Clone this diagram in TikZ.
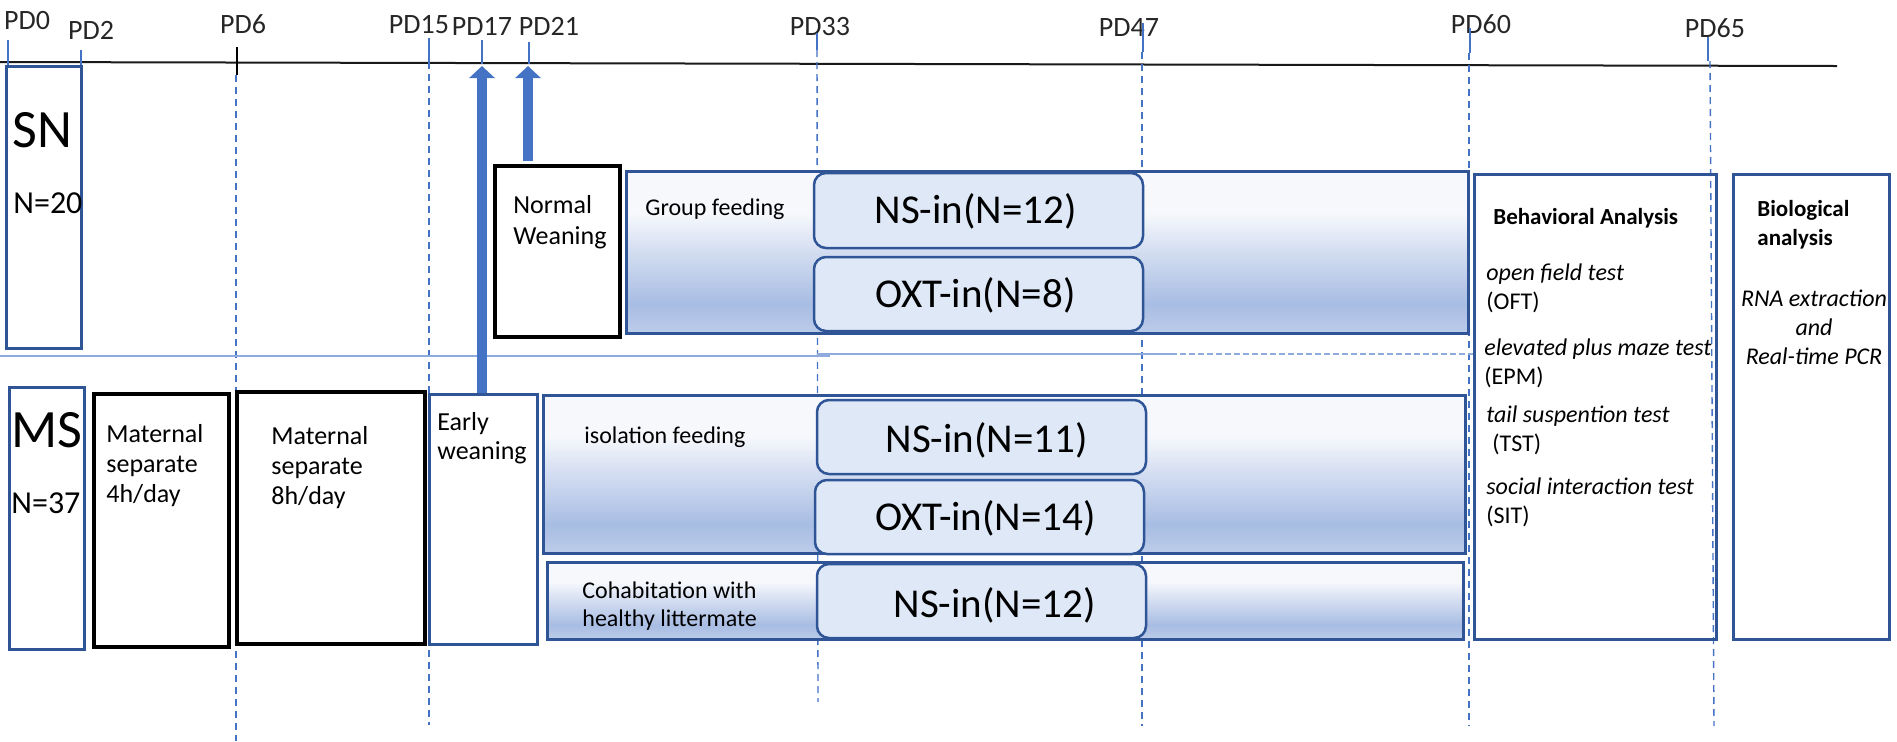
\documentclass[tikz,border=0pt]{standalone}
\usepackage{fontspec}
\setmainfont{Carlito}
\usetikzlibrary{positioning, fit, arrows.meta}

\definecolor{boxblue}{HTML}{2F5597}
\definecolor{lineblue}{HTML}{4472C4}
\definecolor{paleblue}{HTML}{8FAADC}
\definecolor{inblue}{HTML}{DEE8F6}
\definecolor{fadetop}{HTML}{F6F8FC}
\definecolor{fademid}{HTML}{D3DDF1}
\definecolor{fadedark}{HTML}{A8BDE3}
\definecolor{fadebot}{HTML}{BCCCEA}
\pgfdeclareverticalshading{feedfade}{100bp}{color(0bp)=(fadebot); color(25bp)=(fadebot); color(34bp)=(fadedark); color(50bp)=(fademid); color(62bp)=(fadetop); color(100bp)=(fadetop)}

\begin{document}
\begin{tikzpicture}[x=0.5pt, y=-0.5pt,
    box/.style={draw=boxblue, line width=1.5pt, inner sep=0pt},
    blackbox/.style={draw=black, line width=1.6pt, inner sep=0pt},
    feedbox/.style={box, shade, shading=feedfade},
    inbox/.style={draw=boxblue, fill=inblue, line width=1.25pt, rounded corners=6pt, inner sep=0pt},
    intext/.style={inner sep=0pt, font=\fontsize{20.5}{24}\selectfont},
    bigname/.style={inner sep=0pt, anchor=base west, font=\fontsize{27}{30}\selectfont},
    groupn/.style={inner sep=0pt, anchor=base west, font=\fontsize{16}{19}\selectfont},
    pdlabel/.style={inner sep=0pt, text=black!85, font=\fontsize{14}{16}\selectfont},
    pdtick/.style={lineblue, line width=0.8pt},
    gridline/.style={lineblue, line width=0.7pt, dash pattern=on 3.5pt off 2.5pt},
    txt/.style={inner sep=0pt, align=left, anchor=north west, font=\fontsize{13}{15.5}\selectfont},
    oneline/.style={inner sep=0pt, anchor=base west, font=\fontsize{12}{14}\selectfont},
    weanarrow/.style={lineblue, line width=5pt, -{Triangle[width=12.5pt, length=6pt]}}]
    \useasboundingbox (0,0) rectangle (1897,741);

    % time axis
    \coordinate (axis-w) at (0,62);
    \coordinate (axis-e) at (1837,66);
    \draw[black!90, line width=1pt] (axis-w) -- (axis-e);

    \node[pdlabel] (pd0) at (27,21) {PD0};
    \node[pdlabel] (pd2) at (91,30) {PD2};
    \node[pdlabel] (pd6) at (243,24) {PD6};
    \node[pdlabel] (pd15) at (419,25) {PD15};
    \node[pdlabel] (pd17) at (482,26) {PD17};
    \node[pdlabel] (pd21) at (549,26) {PD21};
    \node[pdlabel] (pd33) at (820,27) {PD33};
    \node[pdlabel] (pd47) at (1129,28) {PD47};
    \node[pdlabel] (pd60) at (1481,24) {PD60};
    \node[pdlabel] (pd65) at (1715,28) {PD65};

    \draw[pdtick] (8,40) -- (8,67);
    \draw[pdtick] (81,50) -- (81,67);
    \draw[black, line width=0.8pt] (237,47) -- (237,75);
    \draw[gridline] (236,75) -- (236,741);
    \draw[pdtick] (429,38) -- (429,62);
    \draw[gridline] (429,62) -- (429,725);
    \draw[pdtick] (482,40) -- (482,64);
    \draw[pdtick] (529,42) -- (529,64);
    \draw[pdtick] (817,33) -- (817,50);
    \draw[gridline] (817,50) -- (818,702);
    \draw[pdtick] (1143,23) -- (1143,52);
    \draw[gridline] (1142,52) -- (1142,726);
    \draw[pdtick] (1470,28) -- (1470,53);
    \draw[gridline] (1469,53) -- (1469,726);
    \draw[pdtick] (1708,37) -- (1708,61);
    \draw[gridline] (1710,61) -- (1714,726);

    % SN / MS split
    \draw[paleblue, line width=1pt] (0,356) -- (830,356);
    \draw[paleblue, line width=1pt] (817,354) -- (1171,354);
    \draw[paleblue, line width=1pt, dash pattern=on 3pt off 1.5pt] (1171,354) -- (1473,354);

    % SN group
    \node[box, fit={(6,66) (81,348)}] (sn) {};
    \node[bigname] (sn-name) at (12,147) {SN};
    \node[groupn] (sn-n) at (13,213) {N=20};

    \node[blackbox, fit={(495,166) (620,337)}] (nw) {};
    \node[txt] (nw-text) at (513,195) {Normal\\Weaning};

    \node[feedbox, fit={(626,171) (1468,333)}] (group) {};
    \node[oneline] (group-text) at (645,215) {Group feeding};
    \node[inbox, fit={(814,173) (1143,248)}] (g-ns) {};
    \node[intext] (g-ns-text) at ([shift={(-3,1)}]g-ns.center) {NS-in(N=12)};
    \node[inbox, fit={(814,257) (1143,331)}] (g-oxt) {};
    \node[intext] (g-oxt-text) at ([shift={(-3,1)}]g-oxt.center) {OXT-in(N=8)};

    % MS group
    \node[box, fit={(9,387) (84,649)}] (ms) {};
    \node[bigname] (ms-name) at (11,447) {MS};
    \node[groupn] (ms-n) at (11,513) {N=37};

    \node[blackbox, fit={(94,394) (229,647)}] (ms4) {};
    \node[txt, font=\fontsize{13}{15}\selectfont] (ms4-text) at (106,424) {Maternal\\separate\\4h/day};
    \node[blackbox, fit={(237,392) (425,644)}] (ms8) {};
    \node[txt, font=\fontsize{13}{15}\selectfont] (ms8-text) at (271,426) {Maternal\\separate\\8h/day};

    \node[box, fit={(429,394) (537,644)}] (ew) {};
    \node[txt, font=\fontsize{13}{14.5}\selectfont] (ew-text) at (437,412) {Early\\weaning};

    \node[feedbox, fit={(543,395) (1465,553)}] (iso) {};
    \node[oneline] (iso-text) at (584,443) {isolation feeding};
    \node[inbox, fit={(817,400) (1146,474)}] (i-ns) {};
    \node[intext] (i-ns-text) at ([shift={(5,3)}]i-ns.center) {NS-in(N=11)};
    \node[inbox, fit={(815,480) (1144,554)}] (i-oxt) {};
    \node[intext] (i-oxt-text) at ([shift={(6,1)}]i-oxt.center) {OXT-in(N=14)};

    \node[feedbox, fit={(547,562) (1463,639)}] (coh) {};
    \node[txt, font=\fontsize{12}{14}\selectfont] (coh-text) at (582,581) {Cohabitation with\\healthy littermate};
    \node[inbox, fit={(817,564) (1146,638)}] (c-ns) {};
    \node[intext] (c-ns-text) at ([shift={(13,4)}]c-ns.center) {NS-in(N=12)};

    % analyses
    \node[box, fit={(1474,174) (1716,639)}] (behav) {};
    \node[inner sep=0pt, anchor=base west, font=\bfseries\fontsize{11.5}{14}\selectfont] (behav-title) at (1493,224) {Behavioral Analysis};
    \node[txt, font=\fontsize{12}{14.5}\selectfont] (oft) at (1486,263) {\textit{open field test}\\(OFT)};
    \node[txt, font=\fontsize{12}{14.5}\selectfont] (epm) at (1484,338) {\textit{elevated plus maze test}\\(EPM)};
    \node[txt, font=\fontsize{12}{14.5}\selectfont] (tst) at (1486,405) {\textit{tail suspention test}\\\hspace*{3pt}(TST)};
    \node[txt, font=\fontsize{12}{14.5}\selectfont] (sit) at (1486,477) {\textit{social interaction test}\\(SIT)};

    \node[box, fit={(1733,174) (1889,639)}] (bio) {};
    \node[txt, font=\bfseries\fontsize{11.5}{14.5}\selectfont] (bio-title) at (1757,200) {Biological\\analysis};
    \node[inner sep=0pt, align=center, anchor=north, font=\itshape\fontsize{12}{14.5}\selectfont] (bio-methods) at (1814,290) {RNA extraction\\and\\Real-time PCR};

    % weaning arrows
    \coordinate (top17) at (482,66);
    \coordinate (top21) at (528,66);
    \draw[weanarrow] (ew.north -| top17) -- (top17);
    \draw[weanarrow, shorten <=1.5pt] (nw.north -| top21) -- (top21);
\end{tikzpicture}
\end{document}
